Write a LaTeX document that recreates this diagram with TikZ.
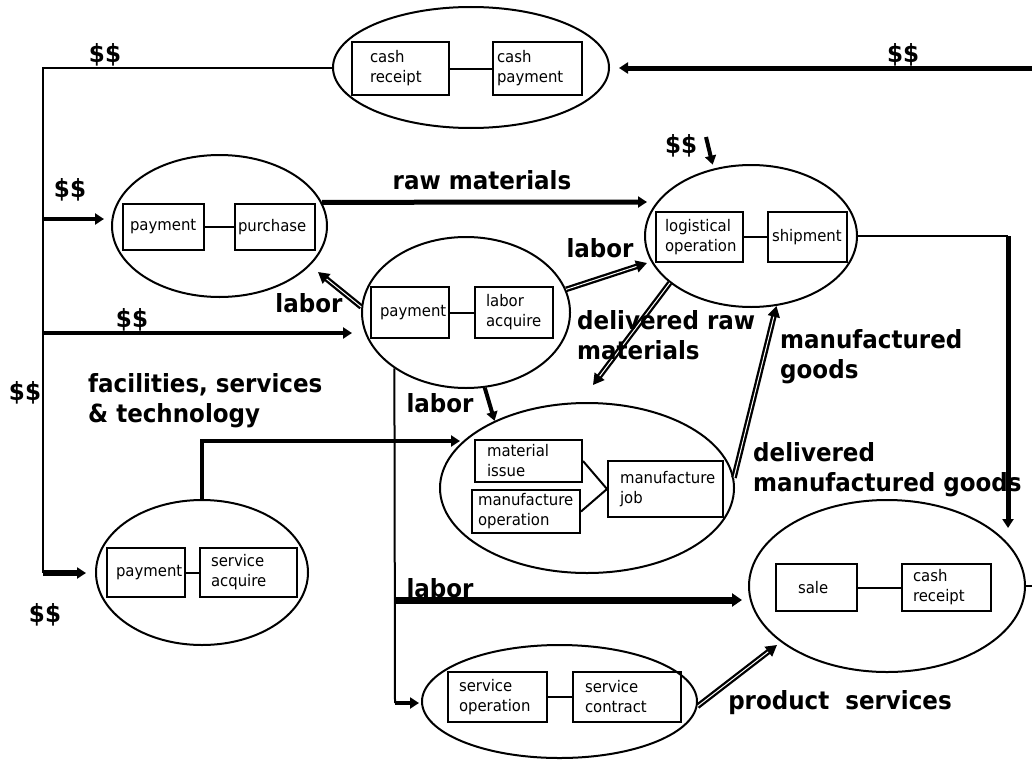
\documentclass[tikz,border=0pt]{standalone}
\usepackage{fontspec}
\usetikzlibrary{shapes.geometric, arrows.meta}
\newfontfamily\lblfam[FakeStretch=0.92]{DejaVu Sans}
\newfontfamily\boxfam[FakeStretch=0.93]{DejaVu Sans}
% one indented line of text inside an activity box
\newcommand\indl[2]{\hspace*{#1pt}#2}

\tikzset{
  proc/.style={draw, ellipse, line width=2pt, inner sep=0pt},
  box/.style n args={2}{draw, rectangle, line width=2pt, inner sep=0pt,
    text width=#1pt, minimum height=#2pt, align=left,
    font=\boxfam\fontsize{16}{20}\selectfont},
  lbl/.style={font=\lblfam\bfseries\fontsize{25}{30}\selectfont, inner sep=0pt, align=left},
  link/.style={line width=2pt},
  flow/.style={line width=4pt, -{Triangle[length=9pt,width=11pt]}},
  hatch/.style={double, line width=2.3pt, double distance=1pt,
    -{Triangle[length=11pt,width=12pt]}},
}

\begin{document}
\begin{tikzpicture}[x=1pt, y=-1pt]
\path[use as bounding box] (0,0) rectangle (1032,760);
\clip (0,0) rectangle (1032,760);

% ---- cash processes (top)
\node[proc, minimum width=276pt, minimum height=121pt] (cashp) at (471,67.5) {};
\node[box={97}{53}] (cr1) at (400.5,68.5) {\indl{18}{cash}\\\indl{18}{receipt}};
\node[box={89}{53}] (cp1) at (537.5,68.5) {\indl{4}{cash}\\\indl{4}{payment}};

% ---- purchasing
\node[proc, minimum width=215pt, minimum height=142pt] (buy) at (219.5,226) {};
\node[box={81}{46}] (bpay) at (163.5,227) {\indl{7}{payment}};
\node[box={80}{46}] (bpur) at (275,227) {\indl{3}{purchase}};

% ---- labor acquisition
\node[proc, minimum width=208pt, minimum height=151pt] (lab) at (466,312.5) {};
\node[box={78}{51}] (lpay) at (410,312.5) {\indl{9}{payment}};
\node[box={78}{51}] (lacq) at (514,312.5) {\indl{11}{labor}\\\indl{11}{acquire}};

% ---- logistics
\node[proc, minimum width=212pt, minimum height=142pt] (logi) at (751,236) {};
\node[box={87}{50}] (lop) at (699.5,237) {\indl{9}{logistical}\\\indl{9}{operation}};
\node[box={79}{50}] (lship) at (807.5,237) {\indl{4}{shipment}};

% ---- manufacturing
\node[proc, minimum width=294pt, minimum height=170pt] (mfg) at (587,488) {};
\node[box={107}{42}] (miss) at (528.5,461) {\indl{12}{material}\\\indl{12}{issue}};
\node[box={108}{43}] (mop) at (526,511.5) {\indl{6}{manufacture}\\\indl{6}{operation}};
\node[box={115}{56}] (mjob) at (665.5,489) {\indl{12}{manufacture}\\\indl{12}{job}};

% ---- service acquisition
\node[proc, minimum width=212pt, minimum height=145pt] (svc) at (202,572.5) {};
\node[box={78}{49}] (spay) at (146,572.5) {\indl{9}{payment}};
\node[box={97}{49}] (sacq) at (248.5,572.5) {\indl{11}{service}\\\indl{11}{acquire}};

% ---- service operation
\node[proc, minimum width=275pt, minimum height=113pt] (sop) at (559.5,701.5) {};
\node[box={99}{50}] (oop) at (497.5,697) {\indl{11}{service}\\\indl{11}{operation}};
\node[box={108}{50}] (ocon) at (627,697) {\indl{12}{service}\\\indl{12}{contract}};

% ---- sales
\node[proc, minimum width=276pt, minimum height=172pt] (sale) at (887,586) {};
\node[box={81}{47}] (rsale) at (816.5,587.5) {\indl{22}{sale}};
\node[box={89}{47}] (rcash) at (946.5,587.5) {\indl{11}{cash}\\\indl{11}{receipt}};

% ---- links between the activities of a process
\draw[link] (cr1) -- (cp1);
\draw[link] (bpay) -- (bpur);
\draw[link] (lpay) -- (lacq);
\draw[link] (lop) -- (lship);
\draw[link] (miss.east) -- (mjob.west);
\draw[link] (mop.east) -- (mjob.west);
\draw[link] (spay) -- (sacq);
\draw[link] (oop) -- (ocon);
\draw[link] (rsale) -- (rcash);

% ---- free ends of the flows
\coordinate (tBot) at (43,573);
\coordinate (t1) at (43,219);
\coordinate (t2) at (43,333);
\coordinate (rEdge) at (1045,68);
\coordinate (shipC) at (1008,236);
\coordinate (shipT) at (1008,528);
\coordinate (rawT) at (647,202);
\coordinate (lbP) at (318,272);
\coordinate (lbL) at (647,263);
\coordinate (drT) at (593,385);
\coordinate (psT) at (777,645);
\coordinate (dS) at (706,137);
\coordinate (facT) at (460,441);
\coordinate (vMid) at (395,600);
\coordinate (vBot) at (395,703);

% ---- money flows
\draw[link] (cashp.west) -| (tBot);
\draw[flow, shorten >=7pt] (t1) -- (t1 -| buy.west);
\draw[flow, shorten >=9pt] (t2) -- (t2 -| lab.west);
\draw[flow, line width=6pt, shorten >=9pt] (tBot) -- (tBot -| svc.west);
\draw[link] (sale.east) -| (rEdge);
\draw[flow, line width=5pt, shorten >=9pt] (rEdge) -- (rEdge -| cashp.east);
\draw[flow, shorten >=4pt] (dS) -- (logi.119);

% ---- goods and labor flows
\draw[flow, line width=5pt] (buy.13) -- (rawT);
\draw[link] (logi.east) -- (shipC);
\draw[flow, line width=5pt] (shipC) -- (shipT);
\draw[hatch] (lab.177) -- (lbP);
\draw[hatch] (lab.13) -- (lbL);
\draw[hatch] (logi.210) -- (drT);
\draw[hatch] (mfg.4) -- (logi.290);
\draw[hatch] (sop.358) -- (psT);
\draw[flow] (lab.284) -- (mfg.144);
\draw[flow, line width=3.5pt] (svc.north) |- (facT);
\draw[link] (lab.218) -- (vBot);
\draw[flow, shorten >=2pt] (vBot) -- (vBot -| sop.west);
\draw[line width=7pt, -{Triangle[length=10pt,width=13pt]}, shorten >=6pt] (vMid) -- (vMid -| sale.west);

% ---- labels
\node[lbl] (d1) at (105,55) {\$\$};
\node[lbl] (d2) at (70,190) {\$\$};
\node[lbl] (d3) at (132,320) {\$\$};
\node[lbl] (d4) at (25,393) {\$\$};
\node[lbl] (d5) at (45,615) {\$\$};
\node[lbl] (d6) at (903,55) {\$\$};
\node[lbl] (d7) at (681,146) {\$\$};
\node[lbl] (raw) at (482,180) {raw materials};
\node[lbl] (lab1) at (309,303) {labor};
\node[lbl] (lab2) at (600,248) {labor};
\node[lbl] (lab3) at (440,403) {labor};
\node[lbl] (lab4) at (440,588) {labor};
\node[lbl, anchor=west] (drm) at (577,335) {delivered raw\\materials};
\node[lbl, anchor=west] (mg) at (780,357) {manufactured\\goods};
\node[lbl, anchor=west] (dmg) at (753,470) {delivered\\manufactured goods};
\node[lbl, anchor=west] (fst) at (88,401) {facilities, services\\\& technology};
\node[lbl] (ps) at (840,703) {product\ \ services};
\end{tikzpicture}
\end{document}
